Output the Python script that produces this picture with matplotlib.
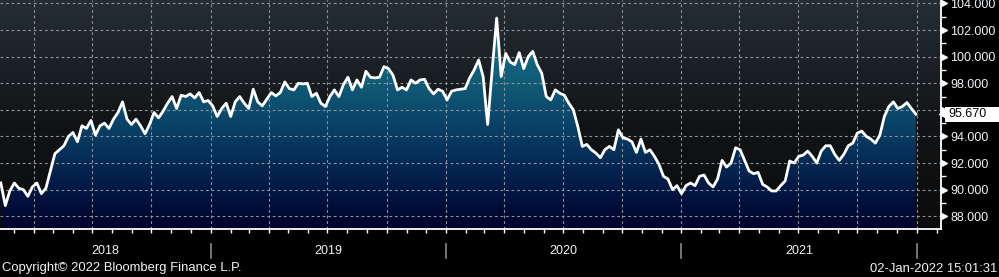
import numpy as np
import pandas as pd
import matplotlib
matplotlib.use('Agg')
import matplotlib.pyplot as plt
import matplotlib.dates as mdates
from matplotlib.colors import LinearSegmentedColormap
from matplotlib.patches import Rectangle
from matplotlib.ticker import FixedLocator, NullFormatter
from matplotlib.transforms import blended_transform_factory

plt.rcParams['font.family'] = ['Liberation Sans', 'DejaVu Sans']

# weekly closes (Fri 9 Feb 2018 .. Fri 31 Dec 2021)
start = '2018-02-09'
values = [
    90.5, 88.8, 89.9, 90.5, 90.1, 90.0, 89.5, 90.2, 90.5, 89.7,
    90.1, 91.4, 92.7, 93.0, 93.3, 94.0, 94.3, 93.6, 94.8, 94.6,
    95.2, 94.1, 94.8, 95.0, 94.6, 95.3, 95.8, 96.6, 95.3, 94.9,
    95.3, 94.8, 94.2, 94.9, 95.8, 95.4,
    95.9, 96.5, 97.0, 96.1, 97.1, 97.0, 97.2, 96.9, 97.3, 96.6,
    96.7, 96.3, 95.5, 96.1, 96.5, 95.5, 96.6, 97.0, 96.5, 96.1,
    97.55, 96.6, 96.3, 96.8, 97.3, 97.05, 97.3, 98.1, 97.6, 97.5,
    98.0, 97.95, 98.0, 97.0,
    97.25, 96.5, 96.25, 97.0, 97.5, 97.0, 97.9, 98.45, 97.5, 98.25,
    97.7, 98.9, 98.45, 98.4, 98.45, 99.25, 99.1, 98.6, 97.5, 97.7,
    97.5, 98.25, 98.0, 98.25, 98.3, 97.6, 97.2, 97.55, 97.4, 96.75,
    97.4, 97.5, 97.55, 97.6,
    98.4, 99.0, 99.75, 98.5, 94.9, 99.0, 102.9, 98.5, 100.25, 99.6,
    99.4, 100.3, 99.1, 100.0, 100.4, 99.4, 98.75, 97.0, 96.75, 97.5,
    97.25, 97.1, 96.5, 96.0, 94.75, 93.25, 93.4, 93.0, 92.75, 92.4,
    93.0, 93.25, 93.0, 94.5, 93.9,
    93.8, 93.6, 92.8, 93.8, 92.8, 93.0, 92.5, 91.9, 91.0, 90.8,
    90.0, 90.3, 89.7, 90.3, 90.5, 90.3, 91.0, 91.1, 90.5, 90.2,
    90.8, 92.2, 91.7, 92.0, 93.15, 93.0, 92.2, 91.4, 91.2, 91.3,
    90.4, 90.2, 89.9, 89.9,
    90.3, 90.65, 92.15, 92.0, 92.5, 92.6, 92.9, 92.5, 92.0, 92.9,
    93.3, 93.3, 92.65, 92.2, 92.65, 93.3, 93.5, 94.25, 94.4, 94.0,
    93.8, 93.5, 94.1, 95.5, 96.25, 96.6, 96.1, 96.25, 96.55, 96.1,
    95.67,
]
dates = pd.date_range(start, periods=len(values), freq='7D')

y_ticks = [88, 90, 92, 94, 96, 98, 100, 102, 104]
y_minor = [89, 91, 93, 95, 97, 99, 101, 103]
years = [2018, 2019, 2020, 2021, 2022]
copyright_text = 'Copyright\u00a9 2022 Bloomberg Finance L.P.'
stamp_text = '02-Jan-2022 15:01:31'

x_lo = pd.Timestamp('2018-02-07 18:00')
x_hi = pd.Timestamp('2022-02-07 12:00')
y_lo, y_hi = 87.04, 104.26

fig = plt.figure(figsize=(9.99, 2.77), dpi=100, facecolor='black')
ax = fig.add_axes([0, 48 / 277, 940.7 / 999, 229 / 277])

# background gradient
bg_cmap = LinearSegmentedColormap.from_list(
    'bg', [(0, '#0b0b0c'), (0.45, '#111416'), (1, '#252e35')])
ax.imshow(np.linspace(0, 1, 256).reshape(-1, 1), cmap=bg_cmap, origin='lower',
          aspect='auto', extent=[0, 1, 0, 1], transform=ax.transAxes, zorder=0)

# area under the curve with vertical gradient
fill_cmap = LinearSegmentedColormap.from_list(
    'fill', [(0, '#01022a'), (0.18, '#031845'), (0.4, '#083a62'),
             (0.65, '#115d78'), (1, '#1b7892')])
fill = ax.fill_between(dates, values, y_lo - 5, color='none', lw=0)
xn = mdates.date2num([x_lo, x_hi])
grad = ax.imshow(np.linspace(0, 1, 256).reshape(-1, 1), cmap=fill_cmap, origin='lower',
                 aspect='auto', extent=[xn[0], xn[1], y_lo, y_hi], zorder=1)
grad.set_clip_path(fill.get_paths()[0], ax.transData)

ax.plot(dates, values, color='white', lw=2, zorder=3, solid_joinstyle='round')

ax.set_xlim(x_lo, x_hi)
ax.set_ylim(y_lo, y_hi)

# grid
ax.xaxis.set_major_locator(mdates.MonthLocator(bymonth=[1, 4, 7, 10]))
ax.xaxis.set_minor_locator(mdates.MonthLocator())
ax.xaxis.set_major_formatter(NullFormatter())
ax.yaxis.set_major_locator(FixedLocator(y_ticks))
ax.yaxis.set_minor_locator(FixedLocator(y_minor))
ax.grid(True, which='major', color='#8c9399', lw=0.8, ls=(0, (2.5, 2.5)), zorder=2)
ax.set_axisbelow(False)

for side in ['top', 'left']:
    ax.spines[side].set_visible(False)
for side in ['right', 'bottom']:
    ax.spines[side].set_color('white')
    ax.spines[side].set_linewidth(1.3)
    ax.spines[side].set_zorder(4)

last = values[-1]

ax.tick_params(axis='x', which='both', direction='out', length=3, width=1,
               color='white', labelbottom=False)
ax.yaxis.tick_right()
ax.tick_params(axis='y', which='major', length=0, pad=7, labelsize=9,
               labelcolor='#eef2f6')
ax.tick_params(axis='y', which='minor', direction='out', length=3.5, width=1,
               color='white')
# the label hidden behind the last-value box is left out
ax.set_yticklabels(['' if abs(v - last) < 1 else f'{v:.3f}' for v in y_ticks])

# small arrow heads on the major y ticks
ytr = ax.get_yaxis_transform()
ax.plot([1.004] * len(y_ticks), y_ticks, ls='none', marker='>', ms=5,
        color='white', transform=ytr, clip_on=False, zorder=5)

# last value box
box_tr = blended_transform_factory(fig.transFigure, ax.transData)
ax.add_patch(Rectangle((945 / 999, last - 0.58), 60 / 999, 1.16, transform=box_tr,
                       fc='white', ec='none', clip_on=False, zorder=5))
ax.plot([1.0045], [last], ls='none', marker='<', ms=9, color='white',
        transform=ytr, clip_on=False, zorder=5)
ax.text(948 / 999, last, f'{last:.3f}', transform=box_tr, ha='left', va='center',
        fontsize=9, color='black', zorder=6)

# year labels and separators below the axis
xtr = blended_transform_factory(ax.transData, fig.transFigure)
for yr in years:
    b = mdates.date2num(pd.Timestamp(f'{yr}-01-01'))
    e = mdates.date2num(pd.Timestamp(f'{yr + 1}-01-01'))
    if xn[0] < b < xn[1]:
        ax.plot([b, b], [1 - 244 / 277, 1 - 258 / 277], color='#8a8a8a', lw=1.2,
                transform=xtr, clip_on=False)
    lo, hi = max(b, xn[0]), min(e, xn[1])
    if hi - lo > 100:
        ax.text((lo + hi) / 2, 1 - 251.5 / 277, str(yr), transform=xtr,
                ha='center', va='center', fontsize=9, color='#f2f2f2')

fig.text(2 / 999, 1 - 268.5 / 277, copyright_text, ha='left', va='center',
         fontsize=9.4, color='#f2f2f2')
fig.text(997 / 999, 1 - 268.5 / 277, stamp_text, ha='right', va='center',
         fontsize=9.4, color='#f2f2f2')

fig.savefig('out.png', dpi=100, facecolor='black')
